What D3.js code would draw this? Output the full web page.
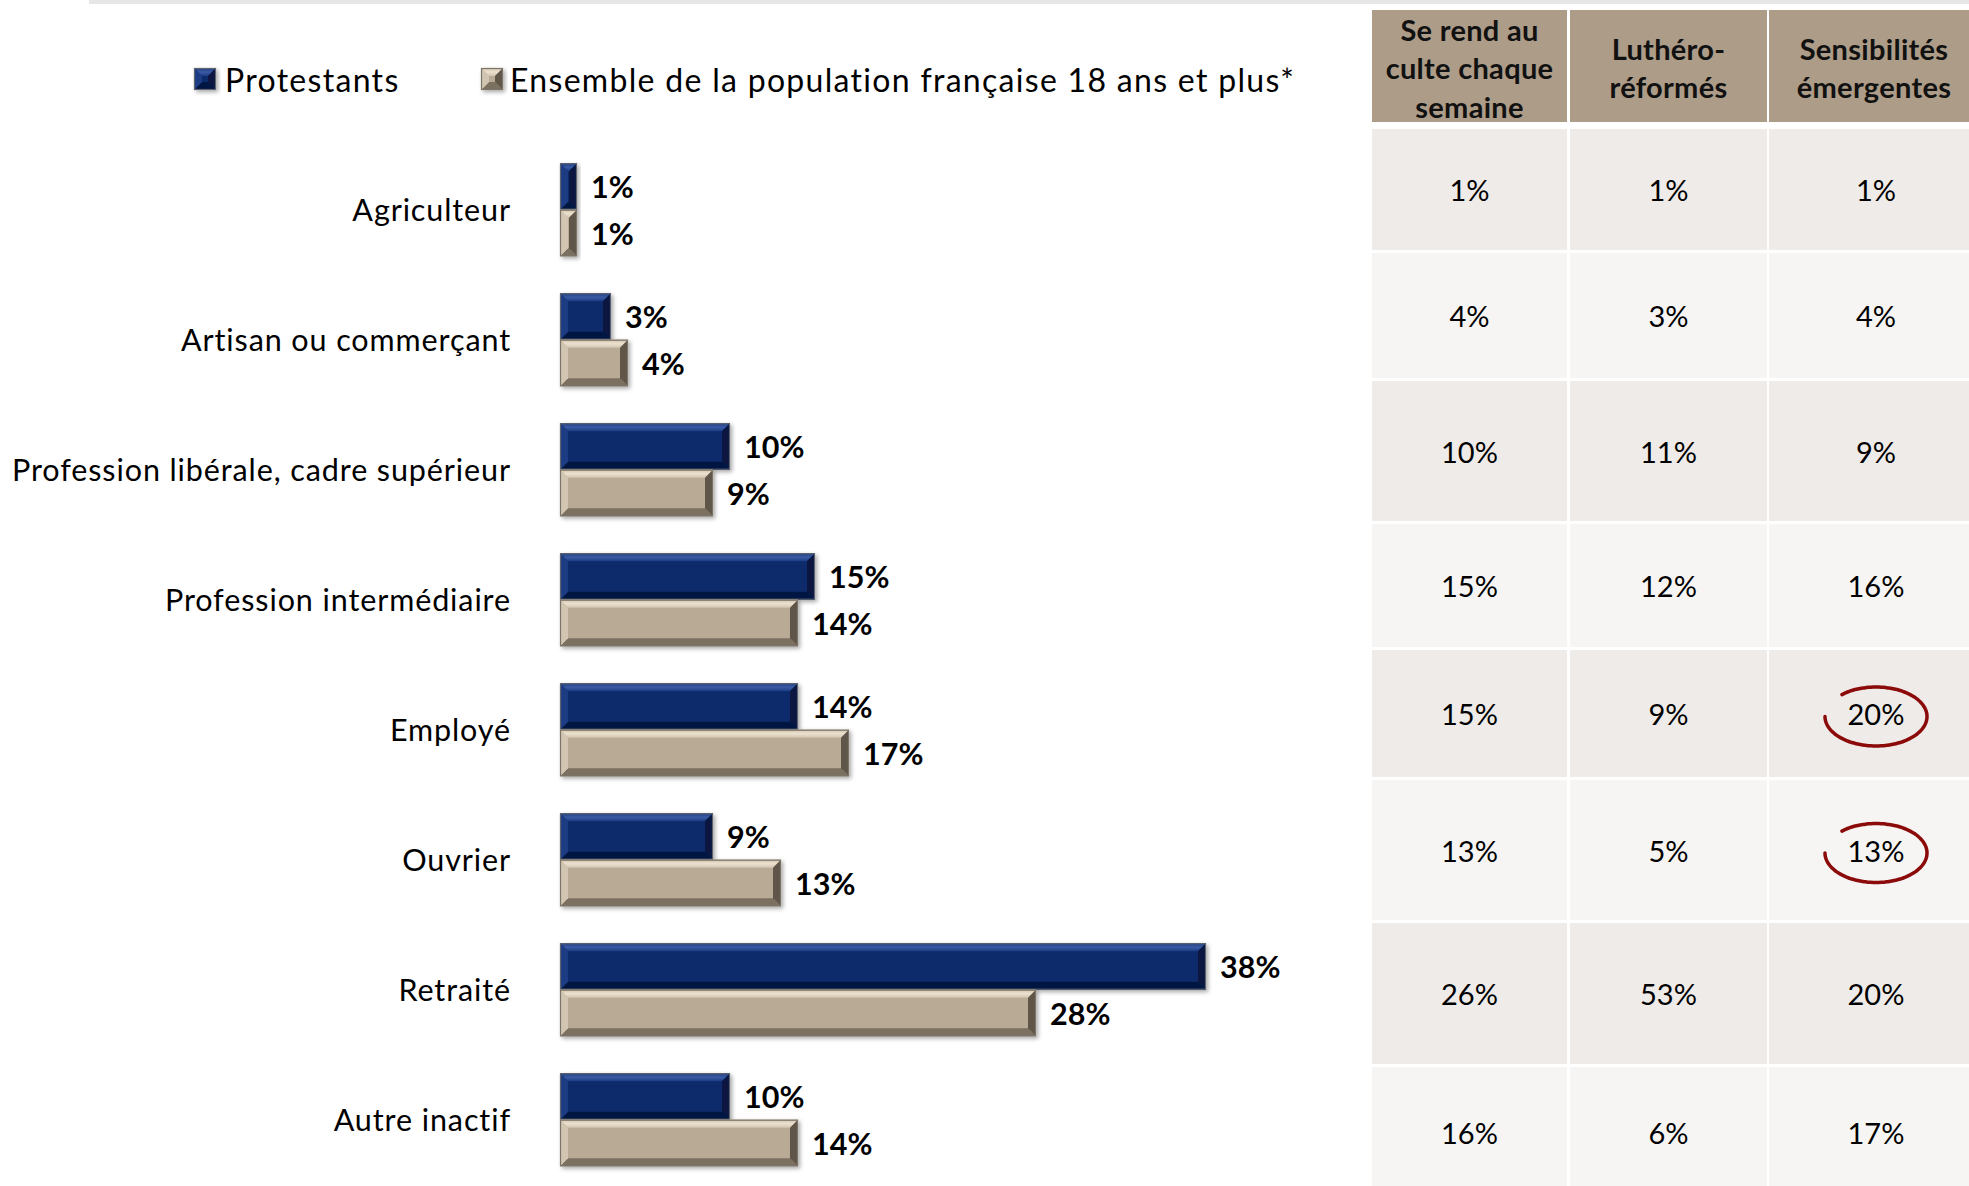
<!DOCTYPE html>
<html>
<head>
<meta charset="utf-8">
<script src="https://cdn.jsdelivr.net/npm/d3@7"></script>
<style>
  html, body { margin: 0; padding: 0; background: #fff; }
  svg { display: block; }
  text { font-family: Lato, "Open Sans", sans-serif; }
</style>
</head>
<body>
<svg id="chart" width="1969" height="1186"></svg>
<script>
// ---------------- DATA ----------------
const categories = [
  "Agriculteur",
  "Artisan ou commerçant",
  "Profession libérale, cadre supérieur",
  "Profession intermédiaire",
  "Employé",
  "Ouvrier",
  "Retraité",
  "Autre inactif"
];
const seriesNames = ["Protestants", "Ensemble de la population française 18 ans et plus*"];
const protestants = [1, 3, 10, 15, 14, 9, 38, 10];
const population  = [1, 4, 9, 14, 17, 13, 28, 14];

const tableHeaders = [
  ["Se rend au", "culte chaque", "semaine"],
  ["Luthéro-", "réformés"],
  ["Sensibilités", "émergentes"]
];
const culteChaqueSemaine   = [1, 4, 10, 15, 15, 13, 26, 16];
const lutheroReformes      = [1, 3, 11, 12, 9, 5, 53, 6];
const sensibilitesEmergentes = [1, 4, 9, 16, 20, 13, 20, 17];
const circledCells = [{col: 2, row: 4}, {col: 2, row: 5}];

// ---------------- LAYOUT ----------------
const W = 1969, H = 1186;
const svg = d3.select("#chart");

const palette = {
  blue:  {main: "#0b2a6b", top: "#3b5ba3", left: "#1d3c84", right: "#07173f", bottom: "#061842", edge: "#5e6470"},
  beige: {main: "#b9aa96", top: "#ece1ce", left: "#d2c5b1", right: "#5f5649", bottom: "#7b6f60", edge: "#7a7468"}
};

// drop shadow filter
const defs = svg.append("defs");
const f = defs.append("filter").attr("id", "shadow").attr("x", "-10%").attr("y", "-20%").attr("width", "130%").attr("height", "160%");
f.append("feDropShadow").attr("dx", 2).attr("dy", 2).attr("stdDeviation", 2).attr("flood-color", "#000").attr("flood-opacity", 0.35);

const gradTop = (id, c1, c2) => {
  const g = defs.append("linearGradient").attr("id", id).attr("x1", 0).attr("y1", 0).attr("x2", 0).attr("y2", 1);
  g.append("stop").attr("offset", "0%").attr("stop-color", c2);
  g.append("stop").attr("offset", "50%").attr("stop-color", c1);
  g.append("stop").attr("offset", "100%").attr("stop-color", c2);
};
gradTop("gBlueTop", palette.blue.top, palette.blue.left);
gradTop("gBeigeTop", palette.beige.top, palette.beige.left);

// top grey strip
svg.append("rect").attr("x", 89).attr("y", 0).attr("width", W - 89).attr("height", 4).attr("fill", "#e6e6e6");

// scales
const x = d3.scaleLinear().domain([0, 40]).range([560, 1240]);
const y = d3.scaleBand().domain(categories).range([144.7, 1184.7]).paddingInner(0.285).paddingOuter(0.1425);
const ySub = d3.scaleBand().domain(["p", "e"]).range([0, y.bandwidth()]);

function bevelBar(g, x0, y0, w, h, pal, topGrad) {
  const b = Math.min(8, w / 2, h / 2);
  const x1 = x0 + w, y1 = y0 + h;
  const grp = g.append("g").attr("filter", "url(#shadow)");
  grp.append("rect").attr("x", x0).attr("y", y0).attr("width", w).attr("height", h).attr("fill", pal.main);
  const poly = (pts, fill) => grp.append("polygon").attr("points", pts.map(p => p.join(",")).join(" ")).attr("fill", fill);
  poly([[x0, y0], [x1, y0], [x1 - b, y0 + b], [x0 + b, y0 + b]], `url(#${topGrad})`);
  poly([[x0, y1], [x1, y1], [x1 - b, y1 - b], [x0 + b, y1 - b]], pal.bottom);
  poly([[x0, y0], [x0 + b, y0 + b], [x0 + b, y1 - b], [x0, y1]], pal.left);
  poly([[x1, y0], [x1 - b, y0 + b], [x1 - b, y1 - b], [x1, y1]], pal.right);
  grp.append("rect").attr("x", x0 + 0.5).attr("y", y0 + 0.5).attr("width", w - 1).attr("height", h - 1)
    .attr("fill", "none").attr("stroke", pal.edge).attr("stroke-width", 1.2);
}

// legend
const legend = svg.append("g");
const legendItems = [
  {name: seriesNames[0], pal: palette.blue, grad: "gBlueTop", ix: 194, tx: 225},
  {name: seriesNames[1], pal: palette.beige, grad: "gBeigeTop", ix: 481, tx: 510}
];
legendItems.forEach(it => {
  bevelBar(legend, it.ix, 68, 22, 22, it.pal, it.grad);
  legend.append("text").attr("x", it.tx).attr("y", 79).attr("dominant-baseline", "central")
    .attr("font-size", 32).attr("letter-spacing", 1.3).attr("fill", "#000").text(it.name);
});

// category labels
const gLabels = svg.append("g");
categories.forEach(c => {
  gLabels.append("text").attr("x", 511).attr("y", y(c) + y.bandwidth() / 2 - 1)
    .attr("text-anchor", "end").attr("dominant-baseline", "central")
    .attr("font-size", 30.5).attr("letter-spacing", 0.9).attr("fill", "#000").text(c);
});

// bars
const gBars = svg.append("g");
categories.forEach((c, i) => {
  const rows = [
    {key: "p", v: protestants[i], pal: palette.blue, grad: "gBlueTop"},
    {key: "e", v: population[i], pal: palette.beige, grad: "gBeigeTop"}
  ];
  rows.forEach(r => {
    const yy = y(c) + ySub(r.key);
    bevelBar(gBars, x(0), yy, x(r.v) - x(0), ySub.bandwidth(), r.pal, r.grad);
  });
  rows.forEach(r => {
    const yy = y(c) + ySub(r.key);
    gBars.append("text").attr("x", x(r.v) + 14).attr("y", yy + ySub.bandwidth() / 2)
      .attr("dominant-baseline", "central").attr("font-size", 30.5).attr("font-weight", 700)
      .attr("fill", "#000").text(r.v + "%");
  });
});

// ---------------- TABLE ----------------
const colEdges = [[1372, 1567], [1570, 1767], [1769, 1983]];
const headerBox = [10, 122];
const rowWeights = [121, 125, 140, 123, 127, 140, 141, 131];
const rowGap = 3;
const rowStart = 129;
const cum = [0];
rowWeights.forEach(w => cum.push(cum[cum.length - 1] + w + rowGap));
const rowY = d3.scaleLinear().domain([0, cum[cum.length - 1]]).range([rowStart, rowStart + cum[cum.length - 1]]);

const tableCols = [culteChaqueSemaine, lutheroReformes, sensibilitesEmergentes];
const gT = svg.append("g");

// header
colEdges.forEach((ce, ci) => {
  gT.append("rect").attr("x", ce[0]).attr("y", headerBox[0]).attr("width", ce[1] - ce[0]).attr("height", headerBox[1] - headerBox[0]).attr("fill", "#ad9c88");
  const lines = tableHeaders[ci];
  const lh = 38.5, cy = 67.5;
  const cx = ci === 2 ? 1874 : (ce[0] + ce[1]) / 2;
  lines.forEach((l, li) => {
    gT.append("text").attr("x", cx).attr("y", cy + (li - (lines.length - 1) / 2) * lh)
      .attr("text-anchor", "middle").attr("dominant-baseline", "central")
      .attr("font-size", 29).attr("letter-spacing", 0.3).attr("font-weight", 700).attr("fill", "#111").text(l);
  });
});

// body
categories.forEach((c, ri) => {
  const top = rowY(cum[ri]);
  const bottom = top + rowWeights[ri];
  colEdges.forEach((ce, ci) => {
    gT.append("rect").attr("x", ce[0]).attr("y", top).attr("width", ce[1] - ce[0]).attr("height", bottom - top)
      .attr("fill", ri % 2 === 0 ? "#efebe8" : "#f6f5f3");
    const cx = ci === 2 ? 1876 : (ce[0] + ce[1]) / 2;
    gT.append("text").attr("x", cx).attr("y", (top + bottom) / 2)
      .attr("text-anchor", "middle").attr("dominant-baseline", "central")
      .attr("font-size", 29).attr("fill", "#000").text(tableCols[ci][ri] + "%");
  });
});

// red hand-drawn circles
circledCells.forEach(cc => {
  const top = rowY(cum[cc.row]);
  const cy = top + rowWeights[cc.row] / 2 + 3;
  const cx = 1876;
  const rx = 51, ry = 29.5;
  const angles = d3.range(228, 543, 3).map(a => a * Math.PI / 180);
  const pts = angles.map(a => [cx + rx * Math.cos(a), cy + ry * Math.sin(a)]);
  gT.append("path").attr("d", d3.line().curve(d3.curveCatmullRom)(pts))
    .attr("fill", "none").attr("stroke", "#8b0a0a").attr("stroke-width", 3.5).attr("stroke-linecap", "round");
});
</script>
</body>
</html>
